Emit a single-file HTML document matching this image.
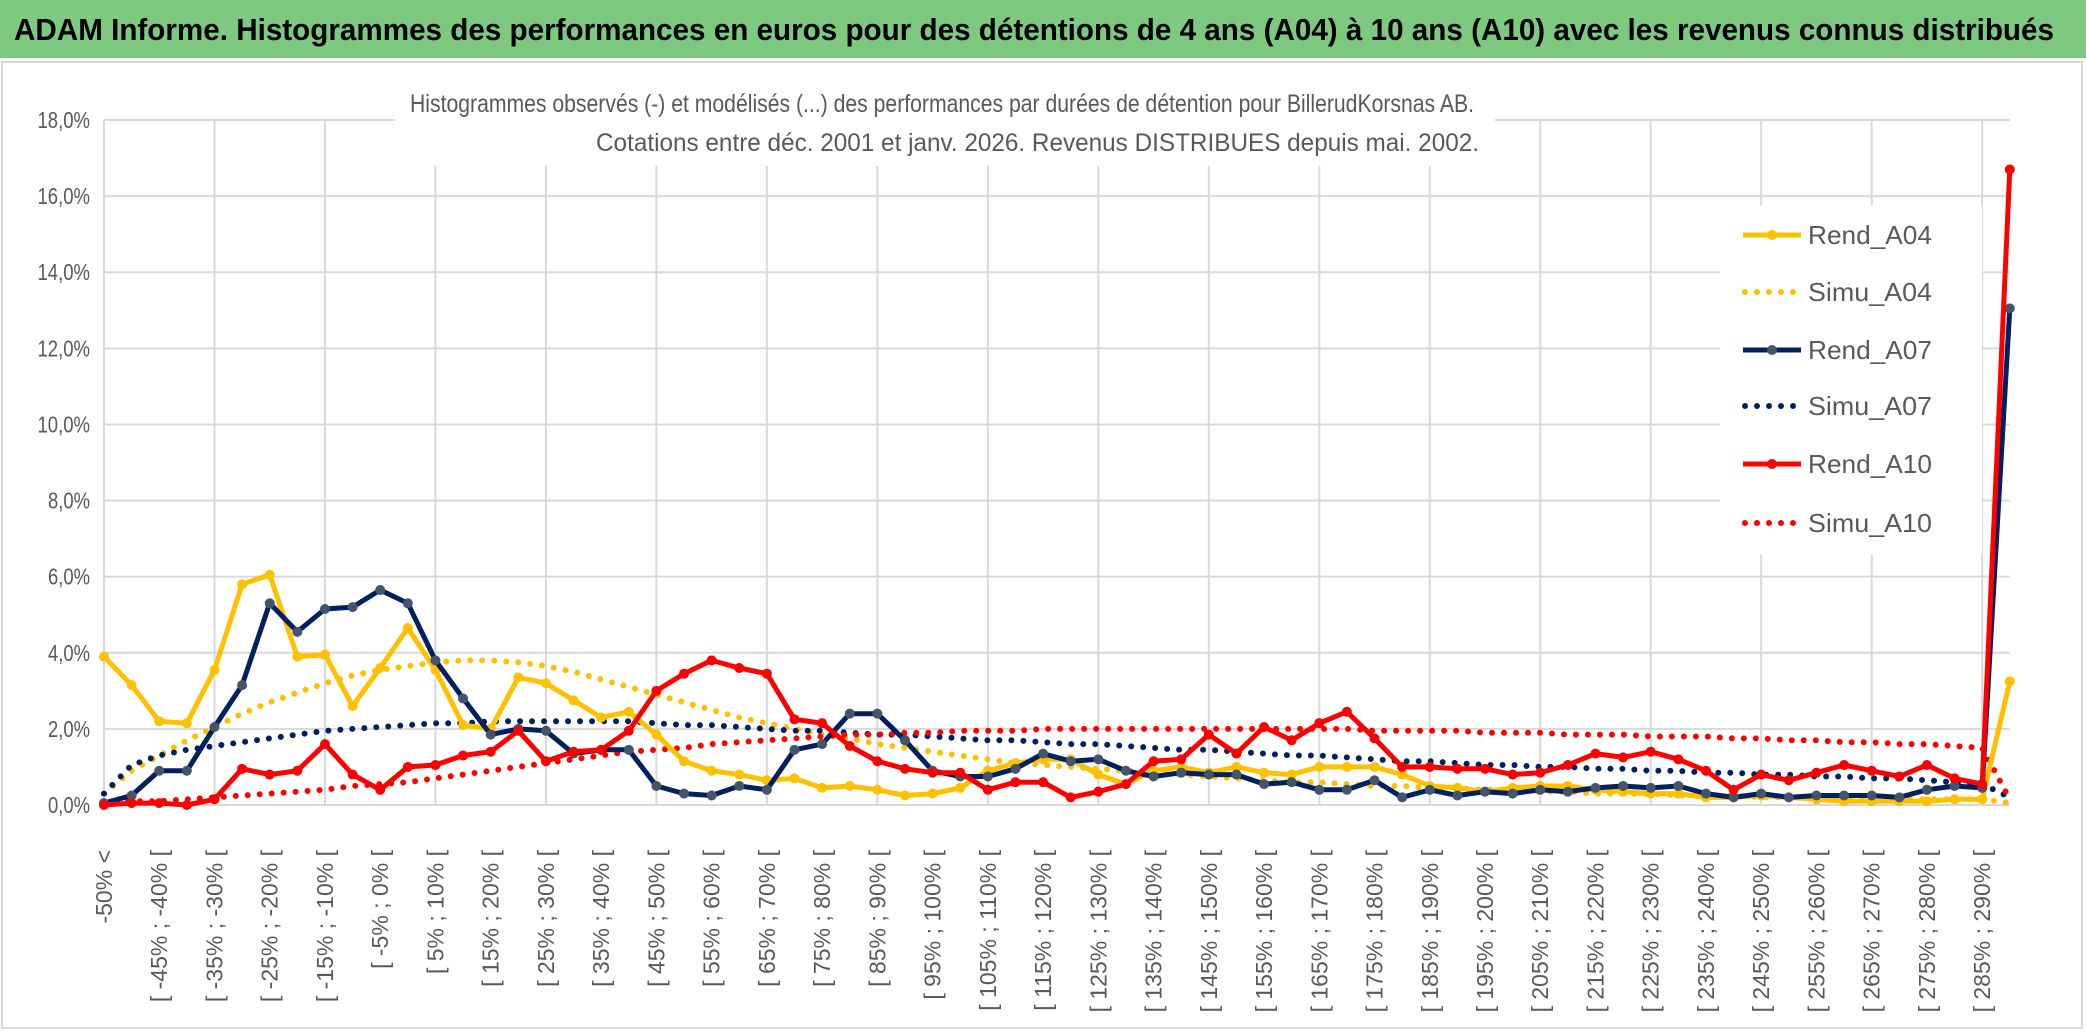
<!DOCTYPE html>
<html><head><meta charset="utf-8"><style>
html,body{margin:0;padding:0;background:#fff;}
svg{display:block;font-family:"Liberation Sans Narrow","Liberation Sans",sans-serif;}
</style></head><body>
<svg id="chart" width="2086" height="1033" viewBox="0 0 2086 1033">
<rect x="0" y="0" width="2086" height="1033" fill="#fff"/>
<rect x="0" y="0" width="2086" height="58" fill="#7dc97f"/>
<text x="14" y="40" font-size="31" font-weight="bold" fill="#000" textLength="2040" lengthAdjust="spacingAndGlyphs">ADAM Informe. Histogrammes des performances en euros pour des détentions de 4 ans (A04) à 10 ans (A10) avec les revenus connus distribués</text>
<rect x="2" y="62" width="2080" height="966" fill="none" stroke="#d9d9d9" stroke-width="2"/>
<g id="grid"></g>
<g id="ylabels"></g>
<g id="xlabels"></g>
<rect x="395" y="78" width="1100" height="88" fill="#fff"/>
<text x="410" y="112" font-size="25" fill="#595959" textLength="1064" lengthAdjust="spacingAndGlyphs">Histogrammes observés (-) et modélisés (...) des performances par durées de détention pour BillerudKorsnas AB.</text>
<text x="596" y="151" font-size="25" fill="#595959" textLength="883" lengthAdjust="spacingAndGlyphs">Cotations entre déc. 2001 et janv. 2026. Revenus DISTRIBUES depuis mai. 2002.</text>
<g id="series"></g>
<g id="legend"></g>
</svg>
<script>
const categories = [];
categories.push("-50% <");
for (let k = 1; k < 70; k++) { categories.push("[ " + (-55 + 5 * k) + "% ; " + (-50 + 5 * k) + "% ["); }
const yTicks = [0, 2, 4, 6, 8, 10, 12, 14, 16, 18];
const yTickLabels = ["0,0%","2,0%","4,0%","6,0%","8,0%","10,0%","12,0%","14,0%","16,0%","18,0%"];
const rendA04 = [3.9,3.15,2.2,2.15,3.55,5.8,6.05,3.9,3.95,2.6,3.6,4.65,3.55,2.1,2.0,3.35,3.2,2.75,2.3,2.45,1.85,1.15,0.9,0.8,0.65,0.7,0.45,0.5,0.4,0.25,0.3,0.45,0.9,1.1,1.2,1.2,0.8,0.55,0.9,1.0,0.85,1.0,0.85,0.8,1.0,1.0,1.0,0.8,0.5,0.45,0.35,0.45,0.5,0.5,0.4,0.35,0.3,0.3,0.2,0.2,0.25,0.2,0.15,0.1,0.1,0.1,0.1,0.15,0.15,3.25];
const simuA04 = [0.3,0.9,1.3,1.7,2.05,2.4,2.7,2.95,3.2,3.4,3.55,3.65,3.75,3.8,3.8,3.75,3.65,3.5,3.3,3.1,2.9,2.7,2.5,2.3,2.15,2.0,1.85,1.75,1.6,1.5,1.4,1.3,1.2,1.1,1.05,1.0,0.95,0.9,0.85,0.8,0.75,0.7,0.65,0.6,0.6,0.55,0.5,0.5,0.45,0.45,0.4,0.4,0.35,0.35,0.3,0.3,0.3,0.25,0.25,0.25,0.2,0.2,0.2,0.2,0.15,0.15,0.15,0.15,0.15,0.05];
const rendA07 = [0.05,0.25,0.9,0.9,2.05,3.15,5.3,4.55,5.15,5.2,5.65,5.3,3.8,2.8,1.85,2.0,1.95,1.35,1.45,1.45,0.5,0.3,0.25,0.5,0.4,1.45,1.6,2.4,2.4,1.7,0.9,0.75,0.75,0.95,1.35,1.15,1.2,0.9,0.75,0.85,0.8,0.8,0.55,0.6,0.4,0.4,0.65,0.2,0.4,0.25,0.35,0.3,0.4,0.35,0.45,0.5,0.45,0.5,0.3,0.2,0.3,0.2,0.25,0.25,0.25,0.2,0.4,0.5,0.45,13.05];
const simuA07 = [0.3,1.05,1.3,1.45,1.55,1.65,1.75,1.85,1.95,2.0,2.05,2.1,2.15,2.15,2.2,2.2,2.2,2.2,2.2,2.2,2.15,2.1,2.1,2.05,2.0,1.95,1.95,1.9,1.85,1.85,1.8,1.75,1.7,1.7,1.65,1.6,1.6,1.55,1.5,1.45,1.45,1.4,1.35,1.3,1.3,1.25,1.2,1.15,1.15,1.1,1.05,1.05,1.0,1.0,0.95,0.95,0.9,0.9,0.85,0.85,0.8,0.8,0.75,0.75,0.7,0.7,0.65,0.6,0.55,0.2];
const rendA10 = [0.0,0.05,0.05,0.0,0.15,0.95,0.8,0.9,1.6,0.8,0.4,1.0,1.05,1.3,1.4,1.95,1.15,1.4,1.45,1.95,3.0,3.45,3.8,3.6,3.45,2.25,2.15,1.55,1.15,0.95,0.85,0.85,0.4,0.6,0.6,0.2,0.35,0.55,1.15,1.2,1.85,1.35,2.05,1.7,2.15,2.45,1.75,1.0,1.0,0.95,0.95,0.8,0.85,1.05,1.35,1.25,1.4,1.2,0.9,0.4,0.8,0.65,0.85,1.05,0.9,0.75,1.05,0.7,0.55,16.7];
const simuA10 = [0.05,0.1,0.1,0.15,0.2,0.25,0.3,0.35,0.4,0.5,0.55,0.6,0.7,0.8,0.9,1.0,1.1,1.2,1.3,1.4,1.45,1.5,1.6,1.65,1.7,1.75,1.8,1.85,1.85,1.9,1.9,1.95,1.95,1.95,2.0,2.0,2.0,2.0,2.0,2.0,2.0,2.0,2.0,2.0,2.0,2.0,1.95,1.95,1.95,1.95,1.9,1.9,1.9,1.85,1.85,1.85,1.8,1.8,1.8,1.75,1.75,1.7,1.7,1.65,1.65,1.6,1.6,1.55,1.5,0.15];
const seriesNames = ["Rend_A04","Simu_A04","Rend_A07","Simu_A07","Rend_A10","Simu_A10"];

const NS = "http://www.w3.org/2000/svg";
const X0 = 104, XSTEP = 27.62, Y0 = 805, YTOP = 120, YMAX = 18;
function xScale(i){ return X0 + i * XSTEP; }
function yScale(v){ return Y0 - (v / YMAX) * (Y0 - YTOP); }
function mk(tag, attrs, parent){ const e = document.createElementNS(NS, tag); for (const k in attrs) e.setAttribute(k, attrs[k]); parent.appendChild(e); return e; }

const grid = document.getElementById('grid');
const xEnd = xScale(categories.length - 1);
yTicks.forEach((t, j) => {
  const l = mk('line', {x1: X0, x2: xEnd, y1: yScale(t), y2: yScale(t), stroke: '#d9d9d9', 'stroke-width': 2}, grid);
  
  
  const lab = yTickLabels[j];
  const tx = mk('text', {x: 90, y: yScale(t) + 8, 'text-anchor': 'end', 'font-size': 23, fill: '#595959', textLength: lab.length * 10.5, lengthAdjust: 'spacingAndGlyphs'}, document.getElementById('ylabels'));
  tx.textContent = lab;
  
  
});
for (let i = 0; i < categories.length; i += 4) {
  const l = mk('line', {x1: xScale(i), x2: xScale(i), y1: YTOP, y2: Y0, stroke: '#d9d9d9', 'stroke-width': 2}, grid);
  
  
}
const xl = document.getElementById('xlabels');
for (let i = 0; i < categories.length; i += 2) {
  const x = xScale(i), y = 850;
  const t = mk('text', {x: x, y: y, transform: 'rotate(-90 ' + x + ' ' + y + ')', 'text-anchor': 'end', 'font-size': 23, fill: '#595959', dy: '8'}, xl);
  t.textContent = categories[i];
  
  
}

const sg = document.getElementById('series');
function pts(arr){ return arr.map((v, i) => xScale(i).toFixed(1) + ',' + yScale(v).toFixed(1)).join(' '); }
function dotted(arr, color, name){
  const p = mk('polyline', {points: pts(arr), fill: 'none', stroke: color, 'stroke-width': 6, 'stroke-linecap': 'round', 'stroke-dasharray': '0 12'}, sg);
  
  
}
function solid(arr, color, marker, name){
  const p = mk('polyline', {points: pts(arr), fill: 'none', stroke: color, 'stroke-width': 5, 'stroke-linejoin': 'round'}, sg);
  
  
  arr.forEach((v, i) => {
    const c = mk('circle', {cx: xScale(i), cy: yScale(v), r: 5, fill: marker}, sg);
    
    
  });
}
dotted(simuA04, '#ffc000', 'simu-a04-line');
dotted(simuA07, '#002060', 'simu-a07-line');
dotted(simuA10, '#ff0000', 'simu-a10-line');
solid(rendA04, '#ffc000', '#ffc000', 'rend-a04-line');
solid(rendA07, '#002060', '#44546a', 'rend-a07-line');
solid(rendA10, '#ff0000', '#ff0000', 'rend-a10-line');

const lg = document.getElementById('legend');
const lbg = mk('rect', {x: 1720, y: 205, width: 262, height: 350, fill: '#fff'}, lg);


const lColors = ['#ffc000','#ffc000','#002060','#002060','#ff0000','#ff0000'];
const lMarkers = ['#ffc000',null,'#44546a',null,'#ff0000',null];
const lY = [235, 292, 350, 406, 464, 523];
seriesNames.forEach((n, j) => {
  const g = mk('g', {}, lg);
  
  
  if (lMarkers[j]) {
    mk('line', {x1: 1743, x2: 1801, y1: lY[j], y2: lY[j], stroke: lColors[j], 'stroke-width': 5}, g);
    mk('circle', {cx: 1772, cy: lY[j], r: 5, fill: lMarkers[j]}, g);
  } else {
    mk('line', {x1: 1745, x2: 1801, y1: lY[j], y2: lY[j], stroke: lColors[j], 'stroke-width': 6, 'stroke-linecap': 'round', 'stroke-dasharray': '0 12'}, g);
  }
  const t = mk('text', {x: 1808, y: lY[j] + 9, 'font-size': 26, fill: '#595959', textLength: 124, lengthAdjust: 'spacingAndGlyphs'}, g);
  t.textContent = n;
});
</script>
</body></html>
